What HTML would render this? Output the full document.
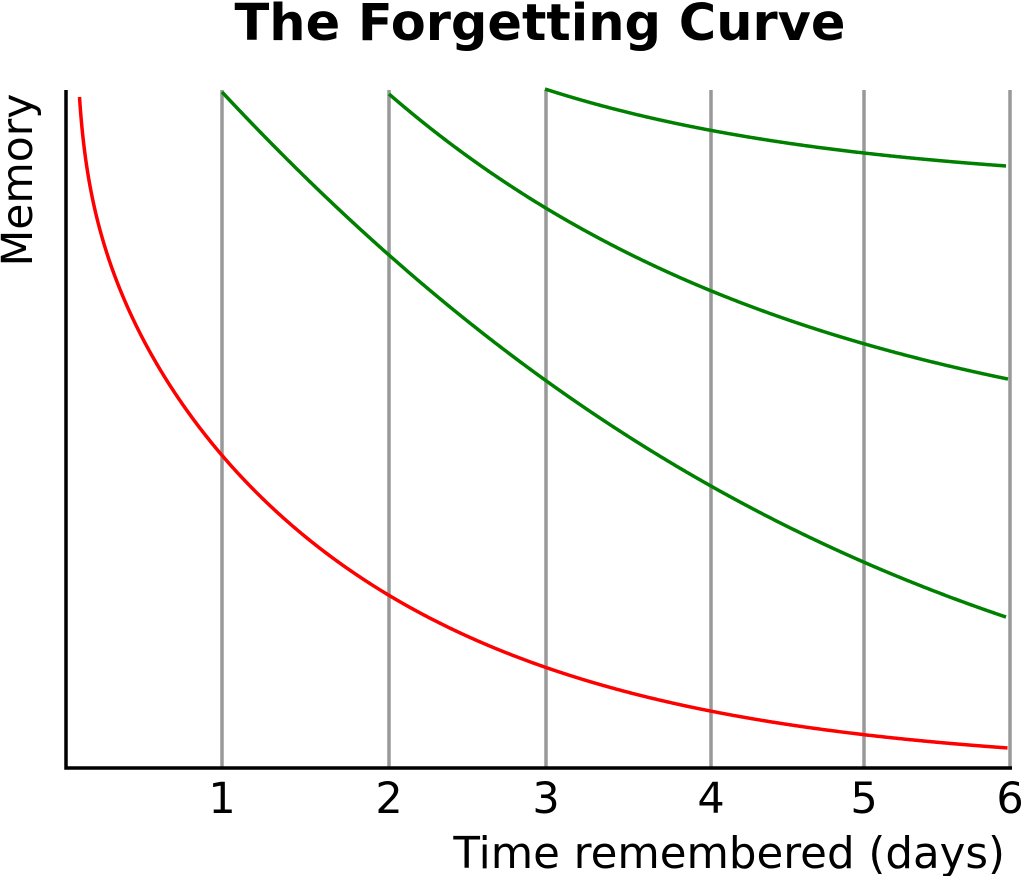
<!DOCTYPE html>
<html><head><style>html,body{margin:0;padding:0;background:#fff;}svg{display:block;}</style></head>
<body>
<svg id="s" width="1024" height="876" viewBox="0 0 1024 876" xmlns="http://www.w3.org/2000/svg" font-family="DejaVu Sans, Liberation Sans, sans-serif">
<text x="540" y="40" font-size="51" font-weight="bold" text-anchor="middle">The Forgetting Curve</text>
<g stroke="#999" stroke-width="3.5">
<line x1="222" y1="90" x2="222" y2="768"/>
<line x1="389" y1="90" x2="389" y2="768"/>
<line x1="546" y1="90" x2="546" y2="768"/>
<line x1="711" y1="90" x2="711" y2="768"/>
<line x1="864" y1="90" x2="864" y2="768"/>
<line x1="1010" y1="90" x2="1010" y2="768"/>
</g>
<polyline points="66,90 66,768 1012,768" stroke="#000" stroke-width="3.5" fill="none"/>
<g fill="none" stroke-width="3.5" stroke-linejoin="round">
<polyline id="r" stroke="#ff0000"/>
<polyline id="g1" stroke="#008000"/>
<polyline id="g2" stroke="#008000"/>
<polyline id="g3" stroke="#008000"/>
</g>
<g font-size="43" text-anchor="middle">
<text x="222" y="813">1</text>
<text x="389" y="813">2</text>
<text x="546" y="813">3</text>
<text x="711" y="813">4</text>
<text x="864" y="813">5</text>
<text x="1010" y="813">6</text>
</g>
<text x="1005" y="868" font-size="43.5" text-anchor="end">Time remembered (days)</text>
<text transform="translate(32,180) rotate(-90)" font-size="42.5" text-anchor="middle">Memory</text>
</svg>
<script>
function pl(id,x0,x1,f){var p=[];for(var x=x0;x<=x1+1e-9;x+=(x-x0<20?0.25:1)){p.push(x.toFixed(2)+","+(768-f(x-x0)).toFixed(2));}document.getElementById(id).setAttribute("points",p.join(" "));}
pl("r",79.5,1008,function(t){return 671*Math.exp(-(0.0978*Math.log(1+t/5)+0.0030*t+2.5e-7*t*t));});
pl("g1",222,1006,function(t){return 676*Math.exp(-(0.001583*t+4.2e-7*t*t));});
pl("g2",389,1008,function(t){return 300+374*Math.exp(-0.00232*t);});
pl("g3",545,1006,function(t){return 580+99*Math.exp(-0.00326*t);});
</script>
</body></html>
